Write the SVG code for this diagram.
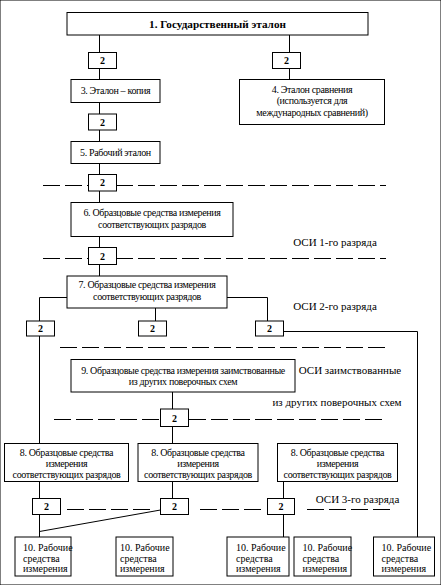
<svg xmlns="http://www.w3.org/2000/svg" width="441" height="585" viewBox="0 0 441 585">
<style>
rect{fill:#fff;stroke:#000;stroke-width:1}
text{font-family:"Liberation Serif","Times New Roman",serif;font-size:10px;fill:#000}
.c{text-anchor:middle;letter-spacing:-0.35px}
.t1{font-size:11.2px;font-weight:bold;letter-spacing:0}
.osi{font-size:11px;letter-spacing:0}
.n{font-weight:bold;font-size:10px;text-anchor:middle}
#connectors line,#connectors polyline{stroke:#000;stroke-width:1;fill:none}
#connectors .d{stroke-dasharray:17 5}
</style>
<rect width="441" height="585" fill="#fff" stroke="none"/>
<g id="connectors">
<line x1="99.5" y1="35" x2="99.5" y2="52"/>
<line x1="99.5" y1="68" x2="99.5" y2="79"/>
<line x1="289.5" y1="35" x2="289.5" y2="52"/>
<line x1="289.5" y1="68" x2="289.5" y2="79"/>
<line x1="99.5" y1="102" x2="99.5" y2="114"/>
<line x1="99.5" y1="130" x2="99.5" y2="141"/>
<line x1="99.5" y1="163" x2="99.5" y2="174"/>
<line x1="99.5" y1="191" x2="99.5" y2="202"/>
<line x1="99.5" y1="236" x2="99.5" y2="247"/>
<line x1="99.5" y1="264" x2="99.5" y2="276"/>
<line class="d" x1="43" y1="185.5" x2="88" y2="185.5"/>
<line class="d" x1="116" y1="185.5" x2="386" y2="185.5"/>
<line class="d" x1="43" y1="258.5" x2="88" y2="258.5"/>
<line class="d" x1="116" y1="258.5" x2="386" y2="258.5"/>
<polyline points="67,297.5 39.5,297.5 39.5,321"/>
<polyline points="227,297.5 267.5,297.5 267.5,321"/>
<line x1="155.5" y1="308" x2="155.5" y2="321"/>
<polyline points="283,331.5 417.5,331.5 417.5,537"/>
<line x1="39.5" y1="336" x2="39.5" y2="443"/>
<line class="d" x1="60" y1="347.5" x2="390" y2="347.5"/>
<line x1="172.5" y1="392" x2="172.5" y2="409"/>
<line x1="172.5" y1="427" x2="172.5" y2="443"/>
<line class="d" x1="54" y1="419.5" x2="161" y2="419.5"/>
<line class="d" x1="189" y1="419.5" x2="386" y2="419.5"/>
<line x1="39.5" y1="482" x2="39.5" y2="498"/>
<line x1="39.5" y1="514" x2="39.5" y2="537"/>
<line x1="172.5" y1="482" x2="172.5" y2="498"/>
<line x1="160.5" y1="510" x2="39.5" y2="531.5"/>
<line x1="283.5" y1="482" x2="283.5" y2="498"/>
<line x1="283.5" y1="515" x2="283.5" y2="537"/>
<line class="d" x1="67" y1="509.5" x2="150" y2="509.5"/>
<line class="d" x1="200" y1="509.5" x2="262" y2="509.5"/>
<line class="d" x1="307" y1="509.5" x2="390" y2="509.5"/>
</g>
<g id="n1"><rect x="67" y="12.5" width="301" height="22.5"/><text class="c t1" x="217.5" y="27.5">1. Государственный эталон</text></g>
<g id="r1"><rect x="88.5" y="52.5" width="28" height="16"/><text class="n" x="102.5" y="64">2</text></g>
<g id="r2"><rect x="272.5" y="52.5" width="28" height="16"/><text class="n" x="286.5" y="64">2</text></g>
<g id="n3"><rect x="71" y="79.5" width="89" height="23"/><text class="c" x="115.5" y="94">3. Эталон – копия</text></g>
<g id="n4"><rect x="239.5" y="79.5" width="145" height="45"/><text class="c" x="312" y="93">4. Эталон сравнения</text><text class="c" x="312" y="104">(используется для</text><text class="c" x="312" y="115.5">международных сравнений)</text></g>
<g id="r3"><rect x="88.5" y="114" width="28" height="16"/><text class="n" x="102.5" y="125.5">2</text></g>
<g id="n5"><rect x="71" y="141.5" width="89" height="22"/><text class="c" x="115.5" y="155.5">5. Рабочий эталон</text></g>
<g id="r4"><rect x="88.5" y="174.5" width="28" height="16.5"/><text class="n" x="102.5" y="186">2</text></g>
<g id="n6"><rect x="71" y="202.5" width="162" height="34"/><text class="c" x="152" y="216">6. Образцовые средства измерения</text><text class="c" x="152" y="227.5">соответствующих разрядов</text></g>
<text class="c osi" x="335" y="246">ОСИ 1-го разряда</text>
<g id="r5"><rect x="88.5" y="247.5" width="28" height="17"/><text class="n" x="102.5" y="259.5">2</text></g>
<g id="n7"><rect x="67" y="276" width="160" height="32"/><text class="c" x="147" y="287.5">7. Образцовые средства измерения</text><text class="c" x="147" y="299.5">соответствующих разрядов</text></g>
<text class="c osi" x="335" y="310">ОСИ 2-го разряда</text>
<g id="r6"><rect x="26.5" y="321" width="28" height="15"/><text class="n" x="40.5" y="332">2</text></g>
<g id="r7"><rect x="138.5" y="321" width="28" height="15"/><text class="n" x="152.5" y="332">2</text></g>
<g id="r8"><rect x="255.5" y="321" width="28" height="15"/><text class="n" x="269.5" y="332">2</text></g>
<g id="n9"><rect x="71" y="359.5" width="224" height="32.5"/><text class="c" x="183" y="373.5">9. Образцовые средства измерения заимствованные</text><text class="c" x="183" y="384.5">из других поверочных схем</text></g>
<text class="c osi" x="350" y="374">ОСИ заимствованные</text>
<text class="c osi" x="337" y="406">из других поверочных схем</text>
<g id="r9"><rect x="160.5" y="409" width="28" height="17.5"/><text class="n" x="174.5" y="421.5">2</text></g>
<g id="n8a"><rect x="4.5" y="443.5" width="124" height="38"/><text class="c" x="66.5" y="456">8. Образцовые средства</text><text class="c" x="66.5" y="467">измерения</text><text class="c" x="66.5" y="477.5">соответствующих разрядов</text></g>
<g id="n8b"><rect x="138" y="443.5" width="120" height="38"/><text class="c" x="198" y="456">8. Образцовые средства</text><text class="c" x="198" y="467">измерения</text><text class="c" x="198" y="477.5">соответствующих разрядов</text></g>
<g id="n8c"><rect x="277.5" y="443.5" width="120" height="38"/><text class="c" x="337.5" y="456">8. Образцовые средства</text><text class="c" x="337.5" y="467">измерения</text><text class="c" x="337.5" y="477.5">соответствующих разрядов</text></g>
<text class="c osi" x="357.5" y="503">ОСИ 3-го разряда</text>
<g id="r10"><rect x="32.5" y="498.5" width="28" height="16"/><text class="n" x="46.5" y="510">2</text></g>
<g id="r11"><rect x="160.5" y="498.5" width="28" height="16"/><text class="n" x="174.5" y="510">2</text></g>
<g id="r12"><rect x="267.5" y="498.5" width="27" height="16"/><text class="n" x="281" y="510">2</text></g>
<g id="n10a"><rect x="15" y="537" width="56" height="39"/><text x="23" y="551">10. Рабочие</text><text x="23" y="561.5">средства</text><text x="23" y="571.5">измерения</text></g>
<g id="n10b"><rect x="116" y="537" width="57" height="39"/><text x="120" y="551">10. Рабочие</text><text x="120" y="561.5">средства</text><text x="120" y="571.5">измерения</text></g>
<g id="n10c"><rect x="227" y="537" width="62" height="39"/><text x="236" y="551">10. Рабочие</text><text x="236" y="561.5">средства</text><text x="236" y="571.5">измерения</text></g>
<g id="n10d"><rect x="294" y="537" width="57" height="39"/><text x="302.5" y="551">10. Рабочие</text><text x="302.5" y="561.5">средства</text><text x="302.5" y="571.5">измерения</text></g>
<g id="n10e"><rect x="373.5" y="537" width="61" height="39"/><text x="381.5" y="551">10. Рабочие</text><text x="381.5" y="561.5">средства</text><text x="381.5" y="571.5">измерения</text></g>
</svg>
